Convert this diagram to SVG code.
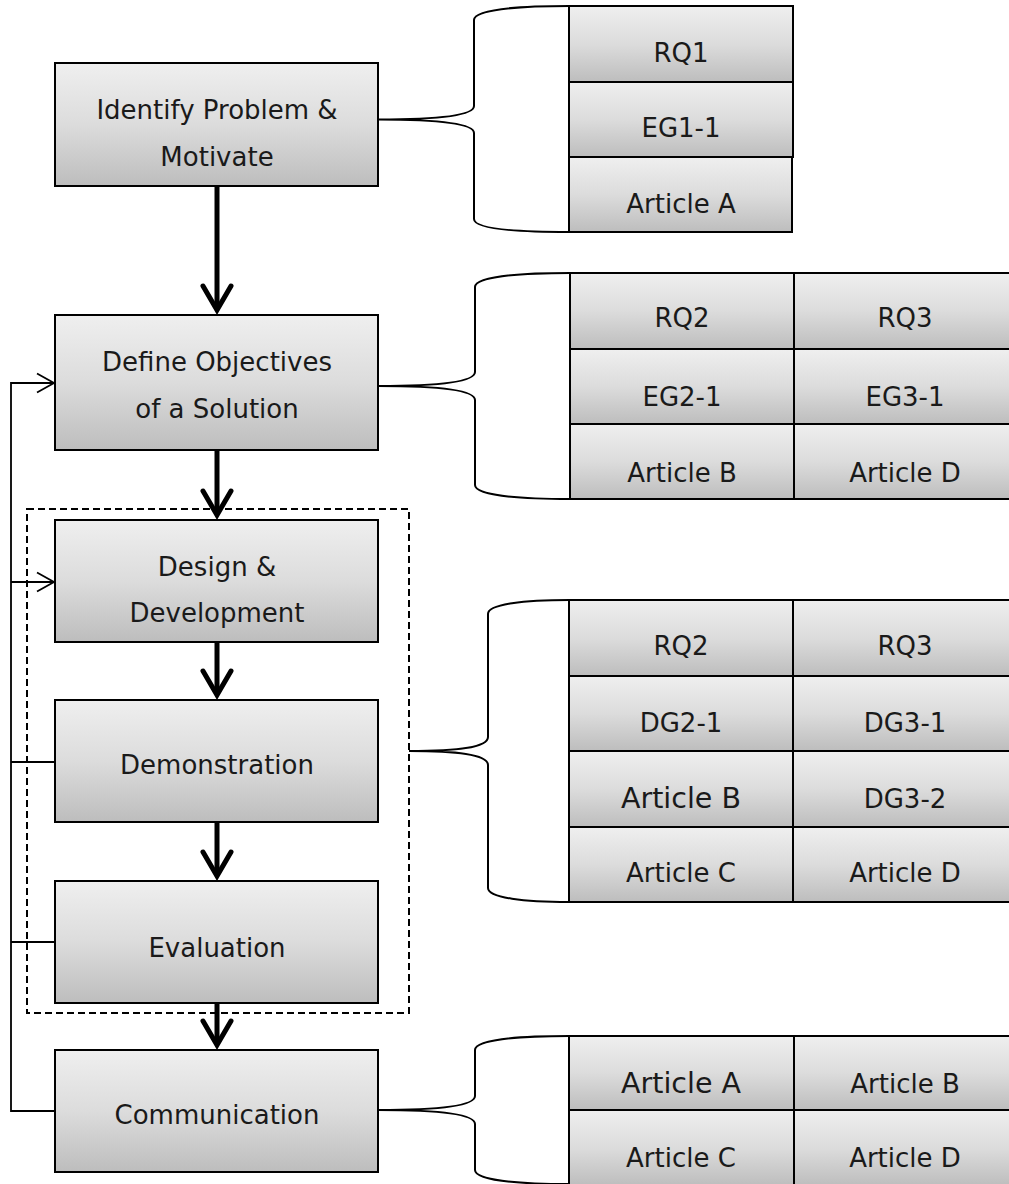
<svg xmlns="http://www.w3.org/2000/svg" width="1009" height="1184" viewBox="0 0 1009 1184">
  <defs>
    <linearGradient id="shade" x1="0" y1="0" x2="0" y2="1">
      <stop offset="0" stop-color="#efefef"/>
      <stop offset="0.5" stop-color="#dcdcdc"/>
      <stop offset="1" stop-color="#bdbdbd"/>
    </linearGradient>
    <marker id="heavy" markerUnits="userSpaceOnUse" orient="auto" refX="0" refY="0" markerWidth="40" markerHeight="40" overflow="visible">
      <path d="M-24,-14 L0,0 L-24,14" fill="none" stroke="#000" stroke-width="5" stroke-linecap="round" stroke-linejoin="miter"/>
    </marker>
    <marker id="light" markerUnits="userSpaceOnUse" orient="auto" refX="0" refY="0" markerWidth="30" markerHeight="30" overflow="visible">
      <path d="M-17,-9.5 L0,0 L-17,9.5" fill="none" stroke="#000" stroke-width="1.8" stroke-linejoin="miter"/>
    </marker>
  </defs>
  <style>
    .box { fill: url(#shade); stroke: #000; stroke-width: 2; }
    .cell { fill: url(#shade); stroke: #000; stroke-width: 2; }
    text { font-family: "DejaVu Sans", "Liberation Sans", sans-serif; font-size: 26px; fill: #1a1a1a; text-anchor: middle; }
    text.big { font-size: 28.5px; }
    .flow { fill: none; stroke: #000; stroke-width: 5; marker-end: url(#heavy); }
    .back { fill: none; stroke: #000; stroke-width: 1.8; }
    .brace { fill: none; stroke: #000; stroke-width: 2; }
    .frame { fill: none; stroke: #000; stroke-width: 2; stroke-dasharray: 7 4; }
  </style>

  <rect id="dev-cycle" class="frame" x="27" y="509" width="382" height="504"/>

  <g id="connectors">
    <path class="flow" d="M217,186 V310"/>
    <path class="flow" d="M217,450 V515"/>
    <path class="flow" d="M217,642 V695"/>
    <path class="flow" d="M217,822 V876"/>
    <path class="flow" d="M217,1003 V1045"/>
    <path class="back" d="M55,1111 H11 V383 H54" marker-end="url(#light)"/>
    <path class="back" d="M11,582 H54" marker-end="url(#light)"/>
    <path class="back" d="M55,762 H11"/>
    <path class="back" d="M55,942 H11"/>
    <path class="brace" d="M378,119.5 C428,119.5 474,117 474,106 L474,20 C474,10 515,6 569,6 M378,119.5 C428,119.5 474,122 474,133 L474,219 C474,229 515,232 569,232"/>
    <path class="brace" d="M378,386 C428,386 475,383 475,372 L475,287 C475,277 516,273 570,273 M378,386 C428,386 475,389 475,400 L475,485 C475,495 516,499 570,499"/>
    <path class="brace" d="M409,751 C455,751 488,748 488,737 L488,614 C488,604 525,600 569,600 M409,751 C455,751 488,754 488,765 L488,888 C488,898 525,902 569,902"/>
    <path class="brace" d="M378,1110 C428,1110 475,1107 475,1096 L475,1050 C475,1040 516,1036 569,1036 M378,1110 C428,1110 475,1113 475,1124 L475,1170 C475,1180 516,1184 569,1184"/>
  </g>

  <g id="identify">
    <rect class="box" x="55" y="63" width="323" height="123"/>
    <text x="217" y="119">Identify Problem &amp;</text>
    <text x="217" y="166">Motivate</text>
  </g>
  <g id="objectives">
    <rect class="box" x="55" y="315" width="323" height="135"/>
    <text x="217" y="371">Define Objectives</text>
    <text x="217" y="418">of a Solution</text>
  </g>
  <g id="design">
    <rect class="box" x="55" y="520" width="323" height="122"/>
    <text x="217" y="576">Design &amp;</text>
    <text x="217" y="622">Development</text>
  </g>
  <g id="demonstration">
    <rect class="box" x="55" y="700" width="323" height="122"/>
    <text x="217" y="774">Demonstration</text>
  </g>
  <g id="evaluation">
    <rect class="box" x="55" y="881" width="323" height="122"/>
    <text x="217" y="957">Evaluation</text>
  </g>
  <g id="communication">
    <rect class="box" x="55" y="1050" width="323" height="122"/>
    <text x="217" y="1124">Communication</text>
  </g>

  <g id="table-identify">
    <rect class="cell" x="569" y="6" width="224" height="76"/>
    <rect class="cell" x="569" y="82" width="224" height="75"/>
    <rect class="cell" x="569" y="157" width="223" height="75"/>
    <text x="681" y="62">RQ1</text>
    <text x="681" y="137">EG1-1</text>
    <text x="681" y="213">Article A</text>
  </g>

  <g id="table-objectives">
    <rect class="cell" x="570" y="273" width="224" height="76"/>
    <rect class="cell" x="570" y="349" width="224" height="75"/>
    <rect class="cell" x="570" y="424" width="224" height="75"/>
    <rect class="cell" x="794" y="273" width="224" height="76"/>
    <rect class="cell" x="794" y="349" width="224" height="75"/>
    <rect class="cell" x="794" y="424" width="224" height="75"/>
    <text x="682" y="327">RQ2</text>
    <text x="682" y="406">EG2-1</text>
    <text x="682" y="482">Article B</text>
    <text x="905" y="327">RQ3</text>
    <text x="905" y="406">EG3-1</text>
    <text x="905" y="482">Article D</text>
  </g>

  <g id="table-design">
    <rect class="cell" x="569" y="600" width="224" height="76"/>
    <rect class="cell" x="569" y="676" width="224" height="75"/>
    <rect class="cell" x="569" y="751" width="224" height="76"/>
    <rect class="cell" x="569" y="827" width="224" height="75"/>
    <rect class="cell" x="793" y="600" width="224" height="76"/>
    <rect class="cell" x="793" y="676" width="224" height="75"/>
    <rect class="cell" x="793" y="751" width="224" height="76"/>
    <rect class="cell" x="793" y="827" width="224" height="75"/>
    <text x="681" y="655">RQ2</text>
    <text x="681" y="732">DG2-1</text>
    <text class="big" x="681" y="808">Article B</text>
    <text x="681" y="882">Article C</text>
    <text x="905" y="655">RQ3</text>
    <text x="905" y="732">DG3-1</text>
    <text x="905" y="808">DG3-2</text>
    <text x="905" y="882">Article D</text>
  </g>

  <g id="table-communication">
    <rect class="cell" x="569" y="1036" width="225" height="74"/>
    <rect class="cell" x="569" y="1110" width="225" height="76"/>
    <rect class="cell" x="794" y="1036" width="224" height="74"/>
    <rect class="cell" x="794" y="1110" width="224" height="76"/>
    <text class="big" x="681" y="1093">Article A</text>
    <text x="681" y="1167">Article C</text>
    <text x="905" y="1093">Article B</text>
    <text x="905" y="1167">Article D</text>
  </g>
</svg>
